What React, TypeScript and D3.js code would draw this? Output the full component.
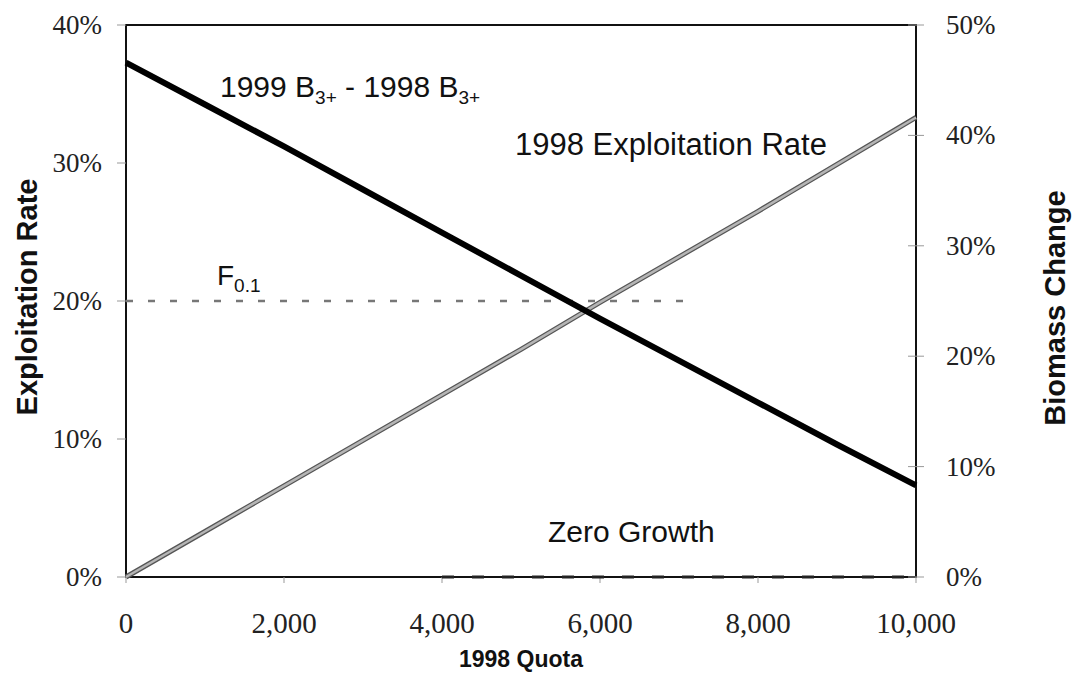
import * as d3 from "d3";

// 1998 quota (t)
const quotas = [0, 1000, 2000, 3000, 4000, 5000, 6000, 7000, 8000, 9000, 10000];
// 1998 exploitation rate (left axis)
const exploitation = [0, 0.033, 0.066, 0.099, 0.132, 0.165, 0.199, 0.232, 0.265, 0.299, 0.333];
// 1999 B3+ - 1998 B3+ biomass change (right axis)
const biomass = [0.466, 0.428, 0.39, 0.351, 0.312, 0.273, 0.234, 0.196, 0.158, 0.12, 0.083];
// F0.1 reference line (left axis)
const fRefQuota = [0, 7200];
const fRefValue = [0.2, 0.2];
// zero growth reference (right axis)
const zeroQuota = [4000, 10000];
const zeroValue = [0, 0];

const xTicks = [0, 2000, 4000, 6000, 8000, 10000];
const leftTicks = [0, 0.1, 0.2, 0.3, 0.4];
const rightTicks = [0, 0.1, 0.2, 0.3, 0.4, 0.5];

const W = 1076;
const H = 674;
const left = 126;
const right = 916;
const top = 25;
const bottom = 577;

const serif = "'Liberation Serif', 'DejaVu Serif', serif";
const sans = "'Liberation Sans', Arial, sans-serif";

export default function App() {
  const x = d3.scaleLinear().domain([0, 10000]).range([left, right]);
  const yL = d3.scaleLinear().domain([0, 0.4]).range([bottom, top]);
  const yR = d3.scaleLinear().domain([0, 0.5]).range([bottom, top]);

  const lineL = d3
    .line<[number, number]>()
    .x((d) => x(d[0]))
    .y((d) => yL(d[1]));
  const lineR = d3
    .line<[number, number]>()
    .x((d) => x(d[0]))
    .y((d) => yR(d[1]));

  const pct = d3.format(".0%");
  const num = d3.format(",");

  const expPath = lineL(quotas.map((q, i) => [q, exploitation[i]]))!;
  const bioPath = lineR(quotas.map((q, i) => [q, biomass[i]]))!;
  const fPath = lineL(fRefQuota.map((q, i) => [q, fRefValue[i]]))!;
  const zPath = lineR(zeroQuota.map((q, i) => [q, zeroValue[i]]))!;

  return (
    <svg
      width={W}
      height={H}
      style={{ position: "absolute", left: 0, top: 0, background: "#fff" }}
    >
      {/* plot frame */}
      <rect
        x={left}
        y={top}
        width={right - left}
        height={bottom - top}
        fill="none"
        stroke="#111"
        strokeWidth={2}
      />

      {/* left axis */}
      {leftTicks.map((t) => (
        <g key={"l" + t}>
          <line x1={left - 9} x2={left} y1={yL(t)} y2={yL(t)} stroke="#999" strokeWidth={1} />
          <text
            x={left - 24}
            y={yL(t) + 9}
            textAnchor="end"
            fontFamily={serif}
            fontSize={27}
            fill="#222"
          >
            {pct(t)}
          </text>
        </g>
      ))}

      {/* right axis */}
      {rightTicks.map((t) => (
        <g key={"r" + t}>
          <line x1={right - 8} x2={right + 8} y1={yR(t)} y2={yR(t)} stroke="#999" strokeWidth={1} />
          <text
            x={right + 30}
            y={yR(t) + 9}
            textAnchor="start"
            fontFamily={serif}
            fontSize={27}
            fill="#222"
          >
            {pct(t)}
          </text>
        </g>
      ))}

      {/* bottom axis */}
      {xTicks.map((t) => (
        <g key={"x" + t}>
          <line x1={x(t)} x2={x(t)} y1={bottom} y2={bottom + 6} stroke="#999" strokeWidth={1} />
          <text
            x={x(t)}
            y={633}
            textAnchor="middle"
            fontFamily={serif}
            fontSize={29}
            fill="#222"
          >
            {num(t)}
          </text>
        </g>
      ))}

      {/* reference lines */}
      <path d={fPath} fill="none" stroke="#777" strokeWidth={2.5} strokeDasharray="7 15" />
      <path d={zPath} fill="none" stroke="#222" strokeWidth={3} strokeDasharray="12 18" />

      {/* series */}
      <path d={expPath} fill="none" stroke="#555" strokeWidth={5} />
      <path d={expPath} fill="none" stroke="#b5b5b5" strokeWidth={2.5} />
      <path d={bioPath} fill="none" stroke="#000" strokeWidth={6} strokeLinejoin="round" />

      {/* annotations */}
      <text x={220} y={97} fontFamily={sans} fontSize={30} fill="#111">
        1999 B
        <tspan fontSize={19} dy={7}>3+</tspan>
        <tspan dy={-7}> - 1998 B</tspan>
        <tspan fontSize={19} dy={7}>3+</tspan>
      </text>
      <text x={515} y={155} fontFamily={sans} fontSize={31} fill="#111">
        1998 Exploitation Rate
      </text>
      <text x={217} y={285} fontFamily={sans} fontSize={28} fill="#111">
        F<tspan fontSize={19} dy={7}>0.1</tspan>
      </text>
      <text x={548} y={542} fontFamily={sans} fontSize={30} fill="#111">
        Zero Growth
      </text>

      {/* axis titles */}
      <text
        transform="translate(37, 297) rotate(-90)"
        textAnchor="middle"
        fontFamily={sans}
        fontWeight="bold"
        fontSize={29}
        fill="#111"
      >
        Exploitation Rate
      </text>
      <text
        transform="translate(1065, 308) rotate(-90)"
        textAnchor="middle"
        fontFamily={sans}
        fontWeight="bold"
        fontSize={29}
        fill="#111"
      >
        Biomass Change
      </text>
      <text
        x={521}
        y={667}
        textAnchor="middle"
        fontFamily={sans}
        fontWeight="bold"
        fontSize={23}
        fill="#111"
      >
        1998 Quota
      </text>
    </svg>
  );
}
